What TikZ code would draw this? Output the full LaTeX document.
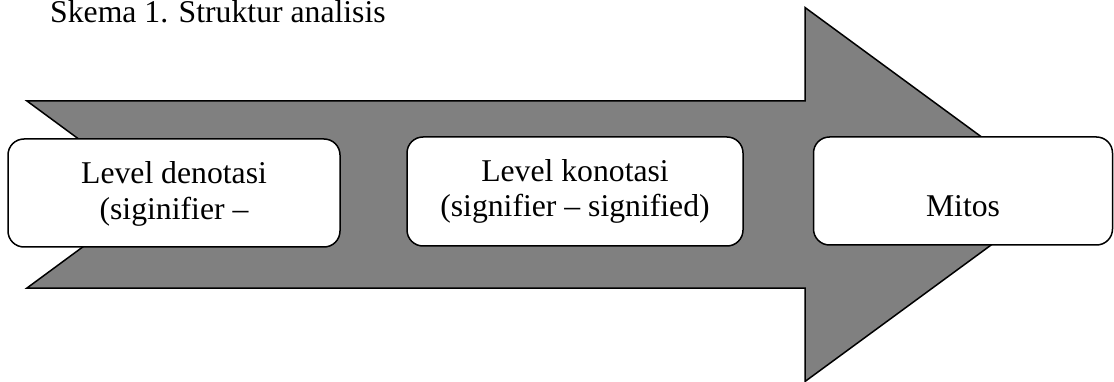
\documentclass[tikz,border=0pt]{standalone}
\usepackage{fontspec}
\setmainfont{Liberation Serif}
\newcommand\myfs{\fontsize{31.7}{36}\selectfont}
\definecolor{arrowgray}{RGB}{128,128,128}
\tikzset{
  boxstyle/.style={draw=black, line width=1.5pt, fill=white, rounded corners=16pt, inner sep=0pt},
  lbl/.style={anchor=base, inner sep=0pt, font=\myfs},
  bigarrow/.style={draw=black, line width=1.5pt, fill=arrowgray, line join=miter}
}
\begin{document}
\begin{tikzpicture}[x=1pt,y=-1pt]
\useasboundingbox (0,0) rectangle (1114,382);
% big notched arrow
\draw[bigarrow] (27,101) -- (805,101) -- (805,7.5) -- (1060,194.5) -- (805,381.5) -- (805,288) -- (27,288) -- (154,194.5) -- cycle;
% title
\node[lbl, anchor=base west] (title) at (50,23) {Skema 1. Struktur analisis};
% boxes
\node[boxstyle, minimum width=332pt, minimum height=108pt] (b1) at (174,193) {};
\node[lbl] (b1a) at (174,184) {Level denotasi};
\node[lbl] (b1b) at (174,220) {(siginifier –};
\node[boxstyle, minimum width=336pt, minimum height=109pt] (b2) at (575,191.5) {};
\node[lbl] (b2a) at (575,182) {Level konotasi};
\node[lbl] (b2b) at (575,217) {(signifier – signified)};
\node[boxstyle, minimum width=299pt, minimum height=108pt] (b3) at (963,191) {};
\node[lbl] (b3a) at (963,217) {Mitos};
\end{tikzpicture}
\end{document}
